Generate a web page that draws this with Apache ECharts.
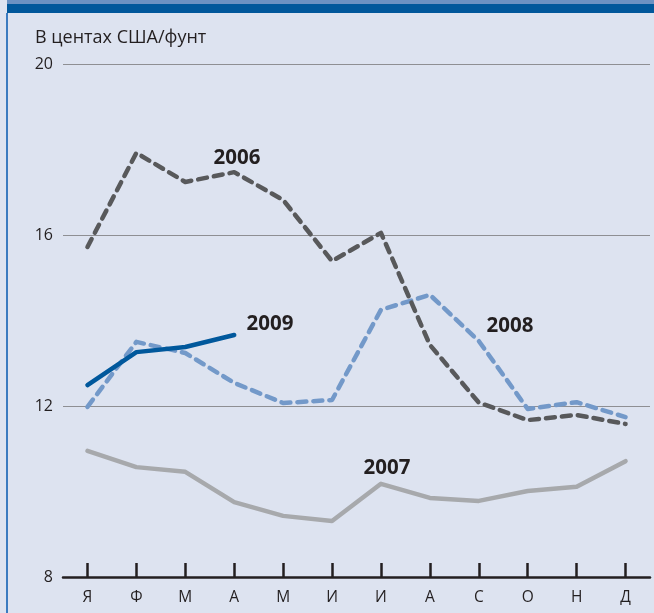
<!DOCTYPE html>
<html>
<head>
<meta charset="utf-8">
<script src="https://cdn.jsdelivr.net/npm/echarts@6/dist/echarts.min.js"></script>
<style>
html,body{margin:0;padding:0;background:#dde3f0;}
#c{width:654px;height:613px;}
</style>
</head>
<body>
<div id="c"></div>
<script>
var months = ['Я','Ф','М','А','М','И','И','А','С','О','Н','Д'];
var yTicks = [8, 12, 16, 20];
var s2006 = [15.72, 17.92, 17.24, 17.47, 16.82, 15.39, 16.05, 13.43, 12.08, 11.67, 11.79, 11.58];
var s2007 = [10.95, 10.57, 10.46, 9.75, 9.43, 9.31, 10.18, 9.85, 9.78, 10.01, 10.11, 10.71];
var s2008 = [11.98, 13.50, 13.24, 12.54, 12.07, 12.14, 14.25, 14.60, 13.52, 11.93, 12.09, 11.74];
var s2009 = [12.49, 13.26, 13.38, 13.66];
var unitLabel = 'В центах США/фунт';

var chart = echarts.init(document.getElementById('c'));
var font = 'Open Sans';
var dashed = [9, 7];
chart.setOption({
  backgroundColor: '#dde3f0',
  animation: false,
  grid: {left: 63, right: 4, top: 64, bottom: 36, containLabel: false},
  xAxis: {
    type: 'category',
    data: months,
    boundaryGap: true,
    axisLine: {show: true, lineStyle: {color: '#231f20', width: 2.5}},
    axisTick: {show: true, inside: true, length: 14, alignWithLabel: true, interval: 0, lineStyle: {color: '#231f20', width: 2.5}},
    axisLabel: {color: '#231f20', fontSize: 15.5, fontFamily: font, margin: 13, interval: 0}
  },
  yAxis: {
    type: 'value',
    min: yTicks[0], max: yTicks[yTicks.length - 1], interval: 4,
    axisLine: {show: false},
    axisTick: {show: false},
    splitLine: {lineStyle: {color: '#8e8f93', width: 1.2}},
    axisLabel: {color: '#231f20', fontSize: 16, fontFamily: font, margin: 10}
  },
  series: [
    {name: '2007', type: 'line', data: s2007, symbol: 'none',
     lineStyle: {color: '#a7a9ac', width: 4.5, cap: 'round', join: 'round'}},
    {name: '2008', type: 'line', data: s2008, symbol: 'none',
     lineStyle: {color: '#7399c9', width: 4.5, type: dashed, cap: 'round', join: 'round'}},
    {name: '2006', type: 'line', data: s2006, symbol: 'none', z: 3,
     lineStyle: {color: '#58595b', width: 4.5, type: dashed, cap: 'round', join: 'round'}},
    {name: '2009', type: 'line', data: s2009, symbol: 'none', z: 4,
     lineStyle: {color: '#00589c', width: 4.5, cap: 'round', join: 'round'}}
  ],
  graphic: [
    {type: 'rect', shape: {x: 7, y: 0, width: 647, height: 4}, style: {fill: '#6b91c2'}},
    {type: 'rect', shape: {x: 7, y: 4, width: 647, height: 9}, style: {fill: '#00579b'}},
    {type: 'rect', shape: {x: 6, y: 13, width: 2, height: 600}, style: {fill: '#3b7bc0'}},
    {type: 'text', x: 35, y: 38, style: {text: unitLabel, fontSize: 18, fontFamily: font, fill: '#231f20', verticalAlign: 'middle'}},
    {type: 'text', x: 237, y: 158, style: {text: '2006', fontSize: 20.5, fontWeight: 'bold', fontFamily: font, fill: '#231f20', align: 'center', verticalAlign: 'middle'}},
    {type: 'text', x: 270, y: 324, style: {text: '2009', fontSize: 20.5, fontWeight: 'bold', fontFamily: font, fill: '#231f20', align: 'center', verticalAlign: 'middle'}},
    {type: 'text', x: 510, y: 326, style: {text: '2008', fontSize: 20.5, fontWeight: 'bold', fontFamily: font, fill: '#231f20', align: 'center', verticalAlign: 'middle'}},
    {type: 'text', x: 387, y: 468, style: {text: '2007', fontSize: 20.5, fontWeight: 'bold', fontFamily: font, fill: '#231f20', align: 'center', verticalAlign: 'middle'}}
  ]
});
</script>
</body>
</html>
